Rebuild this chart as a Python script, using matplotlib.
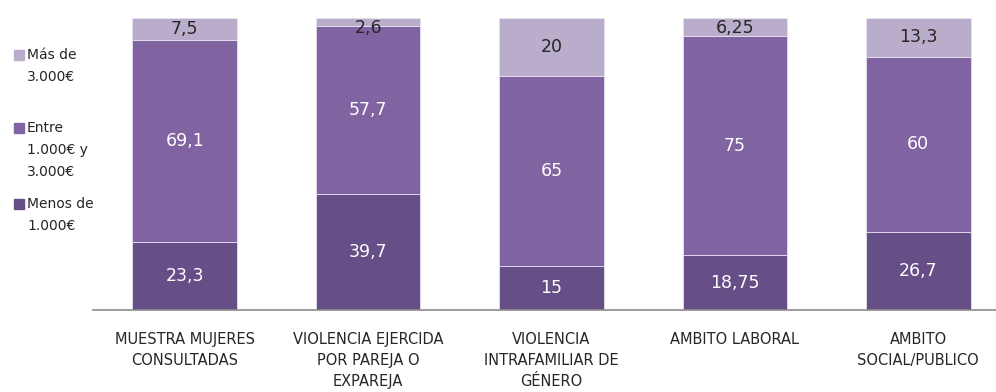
import numpy as np
import matplotlib.pyplot as plt
from matplotlib.patches import Rectangle

plt.rcParams['font.family'] = ['DejaVu Sans']

categorias = ["MUESTRA MUJERES\nCONSULTADAS",
              "VIOLENCIA EJERCIDA\nPOR PAREJA O\nEXPAREJA",
              "VIOLENCIA\nINTRAFAMILIAR DE\nGÉNERO",
              "AMBITO LABORAL",
              "AMBITO\nSOCIAL/PUBLICO"]
menos_1000 = [23.3, 39.7, 15, 18.75, 26.7]
entre_1000_3000 = [69.1, 57.7, 65, 75, 60]
mas_3000 = [7.5, 2.6, 20, 6.25, 13.3]
series_nombres = ["Menos de\n1.000€", "Entre\n1.000€ y\n3.000€", "Más de\n3.000€"]
colores = ["#654f86", "#8064a2", "#b9adcb"]
color_texto = ["white", "white", "#262626"]


def fmt(v):
    return ("%g" % v).replace(".", ",")


fig = plt.figure(figsize=(9.96, 3.92), dpi=100)
ax = fig.add_axes([93 / 996, 1 - 310 / 392, 917 / 996, 292 / 392])

x = np.arange(len(categorias))
ancho = 0.57
base = np.zeros(len(categorias))
for serie, col, tcol in zip([menos_1000, entre_1000_3000, mas_3000], colores, color_texto):
    vals = np.array(serie)
    ax.bar(x, vals, ancho, bottom=base, color=col, edgecolor="#e6e0ee", linewidth=0.6)
    for xi, b, v in zip(x, base, vals):
        # la etiqueta no sale por encima del área de dibujo
        y = min(b + v / 2, 96.6)
        ax.text(xi, y, fmt(v), ha="center", va="center", fontsize=12.5, color=tcol)
    base += vals

ax.set_xlim(-0.5, len(categorias) - 0.5)
ax.set_ylim(0, 100)
ax.set_yticks([])
ax.set_xticks(x)
ax.set_xticklabels(categorias, fontsize=10.5, color="#262626", linespacing=1.5)
ax.tick_params(axis="x", length=0, pad=16)
for s in ["top", "right", "left"]:
    ax.spines[s].set_visible(False)
ax.spines["bottom"].set_color("#8c8c8c")
ax.spines["bottom"].set_linewidth(1.2)

# leyenda a la izquierda, de arriba abajo
posiciones = [(204, series_nombres[0], colores[0]),
              (128, series_nombres[1], colores[1]),
              (55, series_nombres[2], colores[2])]
for (yc, nombre, col) in posiciones:
    fig.patches.append(Rectangle((14 / 996, 1 - (yc + 5) / 392), 10 / 996, 10 / 392,
                                 transform=fig.transFigure, color=col))
    fig.text(27 / 996, 1 - (yc - 7) / 392, nombre, fontsize=10, color="#262626",
             va="top", ha="left", linespacing=1.75)

fig.savefig("out.png", dpi=100)
